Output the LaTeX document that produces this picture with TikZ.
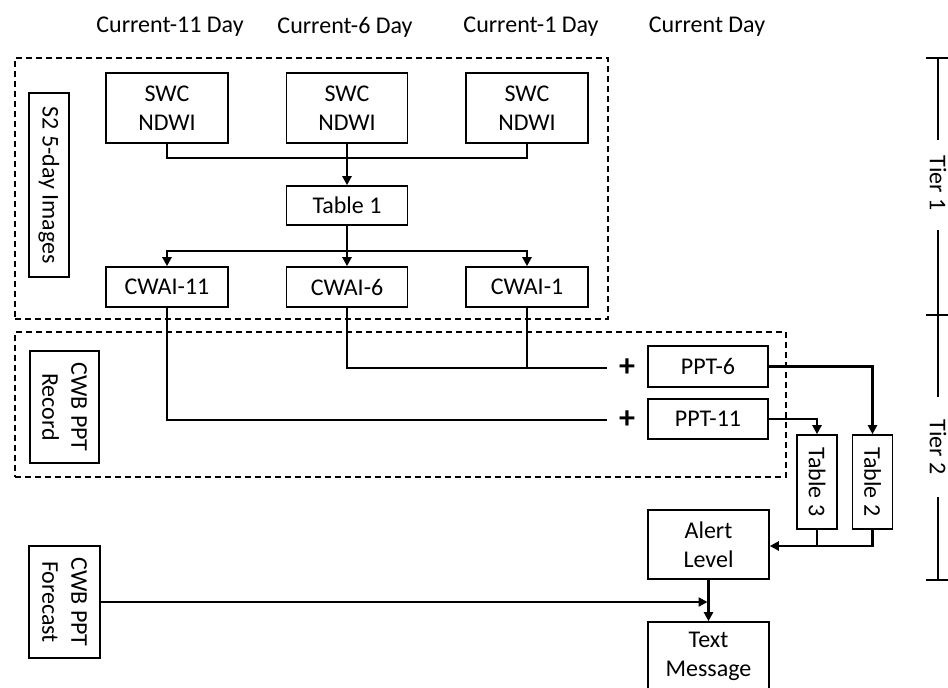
\documentclass[tikz,border=0pt]{standalone}
\usepackage{fontspec}
\setmainfont{Carlito}
\usetikzlibrary{arrows.meta}
\begin{document}
\begin{tikzpicture}[x=1pt,y=-1pt,
  txt/.style={font=\fontsize{24}{29}\selectfont},
  box/.style={draw, line width=1.6pt, inner sep=0pt, align=center, txt},
  lbl/.style={inner sep=0pt, txt},
  conn/.style={line width=2.6pt},
  arr/.style={conn, -{Triangle[length=9pt,width=9pt]}},
  grp/.style={draw, line width=1.5pt, dash pattern=on 6pt off 4pt, inner sep=0pt}]
\useasboundingbox (0,0) rectangle (948,688);
\fill[white] (0,0) rectangle (948,688);

% dashed groups
\node[grp, minimum width=593pt, minimum height=261pt] (g1) at (311.5,188.5) {};
\node[grp, minimum width=771pt, minimum height=145pt] (g2) at (400.5,404.5) {};

% column headers
\node[lbl] (c11) at (170,27) {Current-11 Day};
\node[lbl] (c6)  at (345,27) {Current-6 Day};
\node[lbl] (c1)  at (531,27) {Current-1 Day};
\node[lbl] (c0)  at (707,27) {Current Day};

% tier 1
\node[box, rotate=-90, minimum width=184pt, minimum height=40pt] (s2) at (49,185) {S2 5-day Images};
\node[box, minimum width=122pt, minimum height=70pt] (swc1) at (167,108) {SWC\\NDWI};
\node[box, minimum width=121pt, minimum height=70pt] (swc2) at (347,108) {SWC\\NDWI};
\node[box, minimum width=122pt, minimum height=70pt] (swc3) at (527,108) {SWC\\NDWI};
\node[box, minimum width=121pt, minimum height=39pt] (tab1) at (347,205.5) {Table 1};
\node[box, minimum width=122pt, minimum height=40pt] (cwai11) at (167,287) {CWAI-11};
\node[box, minimum width=121pt, minimum height=40pt] (cwai6) at (347,287) {CWAI-6};
\node[box, minimum width=122pt, minimum height=40pt] (cwai1) at (527,287) {CWAI-1};

% tier 2
\node[box, rotate=-90, minimum width=112pt, minimum height=69pt] (rec) at (64.5,407) {CWB PPT\\Record};
\node[box, minimum width=120pt, minimum height=41pt] (ppt6) at (708,366.5) {PPT-6};
\node[box, minimum width=120pt, minimum height=40pt] (ppt11) at (708,419) {PPT-11};
\node[font=\fontsize{32}{32}\selectfont\bfseries, inner sep=0pt] (plus6) at (627,368) {+};
\node[font=\fontsize{32}{32}\selectfont\bfseries, inner sep=0pt] (plus11) at (627,420) {+};
\node[box, rotate=-90, minimum width=94pt, minimum height=40pt] (tab3) at (817,482) {Table 3};
\node[box, rotate=-90, minimum width=94pt, minimum height=40pt] (tab2) at (872.5,482) {Table 2};
\node[box, minimum width=121pt, minimum height=69pt] (alert) at (708.5,544.5) {Alert\\Level};
\node[box, minimum width=121pt, minimum height=68pt] (msg) at (708.5,656) {Text\\Message};
\node[box, rotate=-90, minimum width=112pt, minimum height=71pt] (fc) at (64.5,602) {CWB PPT\\Forecast};

% tier-1 connectors
\coordinate (j1) at (347,158);
\coordinate (j2) at (347,251);
\draw[conn] (swc1.south) |- (j1) -| (swc3.south);
\draw[arr] (swc2.south) -- (tab1.north);
\draw[conn] (tab1.south) -- (j2);
\draw[arr] (j2) -| (cwai11.north);
\draw[arr] (j2) -| (cwai1.north);
\draw[arr] (j2) -- (cwai6.north);

% tier-2 connectors
\coordinate (e6) at (607,368);
\coordinate (e11) at (607,420);
\draw[conn] (cwai6.south) |- (e6);
\draw[conn] (cwai1.south) -- (cwai1.south |- e6);
\draw[conn] (cwai11.south) |- (e11);
\draw[arr] (ppt6.east) -| (tab2.west);
\draw[arr] (ppt11.east) -| (tab3.west);
\coordinate (j3) at (817,546);
\draw[conn] (tab3.east) -- (j3);
\draw[arr] (tab2.east) |- (alert.east |- j3);
\draw[arr] (alert.south) -- (msg.north);
\draw[arr, shorten >=1pt] (fc.north) -- (fc.north -| alert.south);

% tier bracket
\node[lbl, rotate=-90] (tier1) at (938,183) {Tier 1};
\node[lbl, rotate=-90] (tier2) at (938,447) {Tier 2};
\draw[conn] (938,58) -- (938,140);
\draw[conn] (938,230) -- (938,397);
\draw[conn] (938,497) -- (938,580);
\draw[conn] (926,58) -- (950,58);
\draw[conn] (926,315) -- (950,315);
\draw[conn] (926,580) -- (950,580);
\end{tikzpicture}
\end{document}
